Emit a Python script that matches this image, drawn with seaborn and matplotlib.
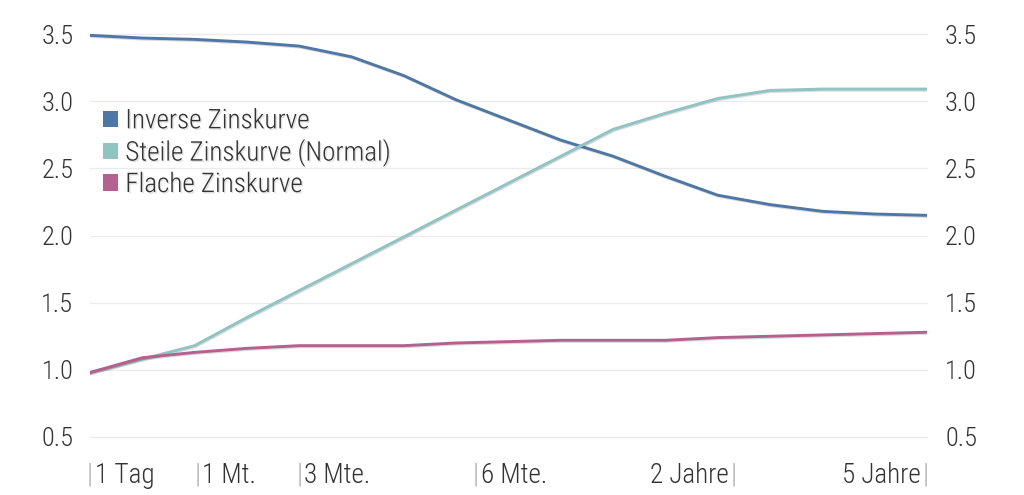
import seaborn as sns
import matplotlib.pyplot as plt
import matplotlib.patheffects as pe
from matplotlib.patches import Patch
import pandas as pd

# data (17 evenly spaced points along the maturity axis)
steps = list(range(17))
inverse = [3.49, 3.47, 3.46, 3.44, 3.41, 3.33, 3.19, 3.01, 2.86, 2.71, 2.59, 2.44, 2.30, 2.23, 2.18, 2.16, 2.15]
steile = [0.98, 1.08, 1.18, 1.39, 1.59, 1.79, 1.99, 2.19, 2.39, 2.59, 2.79, 2.91, 3.02, 3.08, 3.09, 3.09, 3.09]
flache = [0.98, 1.09, 1.13, 1.16, 1.18, 1.18, 1.18, 1.20, 1.21, 1.22, 1.22, 1.22, 1.24, 1.25, 1.26, 1.27, 1.28]
names = ['Inverse Zinskurve', 'Steile Zinskurve (Normal)', 'Flache Zinskurve']
colors = ['#4f77a6', '#8fc4c2', '#b5608f']

left_labels = ['1 Tag', '1 Mt.', '3 Mte.', '6 Mte.']
left_pos = [0, 2.06, 4.0, 7.38]
right_labels = ['2 Jahre', '5 Jahre']
right_pos = [12.31, 15.98]
yticks = [0.5, 1.0, 1.5, 2.0, 2.5, 3.0, 3.5]

df = pd.DataFrame({'step': steps * 3,
                   'wert': inverse + steile + flache,
                   'kurve': [names[0]] * 17 + [names[1]] * 17 + [names[2]] * 17})

sns.set_style("white")
plt.rcParams['font.family'] = ['Roboto Condensed', 'Roboto', 'DejaVu Sans']
plt.rcParams['font.weight'] = 'light'
txt = '#333333'

fig = plt.figure(figsize=(10.24, 4.95), dpi=100)
ax = fig.add_axes([90 / 1024, 58 / 495, 837 / 1024, 403 / 495])
shadow = [pe.SimpleLineShadow(offset=(0.6, -0.8), alpha=0.15), pe.Normal()]
sns.lineplot(ax=ax, data=df, x='step', y='wert', hue='kurve', palette=colors,
             hue_order=names, linewidth=2.1, legend=False, path_effects=shadow)

ax.set_xlim(0, 16)
ax.set_ylim(0.5, 3.5)
ax.set_yticks(yticks)
ax.set_yticklabels([f'{v:.1f}' for v in yticks])
ax.set_xticks([])
ax.set_xlabel('')
ax.set_ylabel('')
for v in yticks:
    ax.axhline(v, color='#ebebeb', lw=0.9, zorder=0, clip_on=False)
for s in ax.spines.values():
    s.set_visible(False)
ax.tick_params(axis='y', length=0, pad=12, labelsize=19, labelcolor=txt)

ax2 = ax.twinx()
ax2.set_ylim(0.5, 3.5)
ax2.set_yticks(yticks)
ax2.set_yticklabels([f'{v:.1f}' for v in yticks])
for s in ax2.spines.values():
    s.set_visible(False)
ax2.tick_params(axis='y', length=0, pad=13, labelsize=19, labelcolor=txt)

# x labels with the little gray bars
trans = ax.get_xaxis_transform()
for lab, p in zip(left_labels, left_pos):
    ax.text(p, -0.095, '|', transform=trans, ha='center', va='center',
            fontsize=20, color='#b0b0b0', clip_on=False)
    ax.text(p + 0.09, -0.095, lab, transform=trans, ha='left', va='center',
            fontsize=19.5, color=txt, clip_on=False)
for lab, p in zip(right_labels, right_pos):
    ax.text(p, -0.095, '|', transform=trans, ha='center', va='center',
            fontsize=20, color='#b0b0b0', clip_on=False)
    ax.text(p - 0.1, -0.095, lab, transform=trans, ha='right', va='center',
            fontsize=19.5, color=txt, clip_on=False)

handles = [Patch(facecolor=c, edgecolor='none') for c in colors]
leg = ax.legend(handles, names, loc='upper left', bbox_to_anchor=(0.003, 0.845),
                frameon=False, fontsize=19.5, handlelength=0.55, handleheight=0.55,
                handletextpad=0.26, labelspacing=0.15, borderaxespad=0)
for t in leg.get_texts():
    t.set_color(txt)
    t.set_path_effects([pe.withSimplePatchShadow(offset=(1, -1), alpha=0.12)])

plt.savefig('out.png', dpi=100)
plt.close()
